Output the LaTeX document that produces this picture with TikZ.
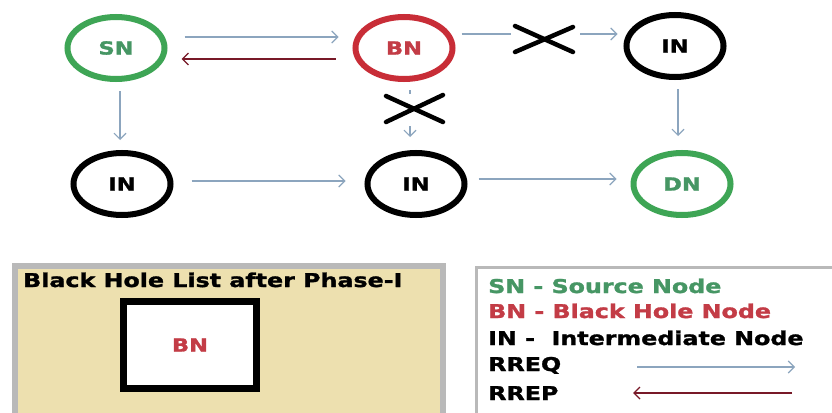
\documentclass[tikz,border=0pt]{standalone}
\usepackage{fontspec}
\newfontfamily\lblfont[FakeStretch=1.25,BoldFeatures={FakeBold=1.5}]{DejaVu Sans}
\usepackage{tikz}
\usetikzlibrary{calc,positioning,shapes.geometric,arrows.meta}
\usepackage{xcolor}
\definecolor{srcgreen}{RGB}{62,165,85}
\definecolor{srctext}{RGB}{70,150,100}
\definecolor{bhred}{RGB}{200,45,55}
\definecolor{bhtext}{RGB}{195,60,70}
\definecolor{reqblue}{RGB}{140,165,190}
\definecolor{repred}{RGB}{120,25,40}
\definecolor{paneltan}{RGB}{237,224,175}
\definecolor{panelgray}{RGB}{185,185,185}

\begin{document}
\begin{tikzpicture}[x=1pt,y=-1pt,
    netnode/.style={ellipse, draw, line width=6pt, minimum width=97pt, minimum height=62pt,
        inner sep=0pt, font=\lblfont\bfseries\fontsize{18}{20}\selectfont},
    req/.style={reqblue, line width=1.1pt, -{Straight Barb[length=6pt,width=12pt]}},
    rep/.style={repred, line width=1.4pt, -{Straight Barb[length=6pt,width=12pt]}},
    cross/.style={line width=4.5pt, line cap=round},
    txt/.style={anchor=base west, inner sep=0pt, font=\lblfont\bfseries\fontsize{19}{21}\selectfont}]
        \clip (0,0) rectangle (832,412);
        \fill[white] (0,0) rectangle (832,412);

        % --- Top: network ---
        \node[netnode, draw=srcgreen, text=srctext] (SN) at (116,48) {SN};
        \node[netnode, draw=bhred, text=bhtext] (BN) at (404,48) {BN};
        \node[netnode, draw=black] (INr) at (675,46) {IN};
        \node[netnode, draw=black] (INl) at (122,184) {IN};
        \node[netnode, draw=black] (INm) at (416,184) {IN};
        \node[netnode, draw=srcgreen, text=srctext] (DN) at (682,184) {DN};

        \coordinate (cutA) at (511,34);
        \coordinate (cutB) at (580,34);
        \coordinate (cutC) at (410,94);
        \coordinate (cutD) at (410,126);

        \draw[req, shorten <=17pt, shorten >=14pt] ([yshift=11pt]SN.east) -- ([yshift=11pt]BN.west);
        \draw[rep, shorten <=17pt, shorten >=14pt] ([yshift=-11pt]BN.west) -- ([yshift=-11pt]SN.east);
        \draw[reqblue, line width=1.1pt, shorten <=6pt] ([yshift=14pt]BN.east) -- (cutA);
        \draw[req, shorten >=6pt] (cutB) -- ([yshift=12pt]INr.west);
        \draw[reqblue, line width=1.1pt, shorten <=8pt] ([xshift=6pt]BN.south) -- (cutC);
        \draw[req, shorten >=13pt] (cutD) -- ([xshift=-6pt]INm.north);
        \draw[req, shorten <=9pt, shorten >=10pt] ([xshift=4pt]SN.south) -- ([xshift=-2pt]INl.north);
        \draw[req, shorten <=9pt, shorten >=14pt] ([xshift=3pt]INr.south) -- ([xshift=-4pt]DN.north);
        \draw[req, shorten <=18pt, shorten >=19pt] ([yshift=3pt]INl.east) -- ([yshift=3pt]INm.west);
        \draw[req, shorten <=11pt, shorten >=14pt] ([yshift=5pt]INm.east) -- ([yshift=5pt]DN.west);

        % crosses on the blocked links
        \draw[cross] (515,26) -- (573,52);
        \draw[cross] (515,52) -- (573,27);
        \draw[cross] (386,96) -- (443,122);
        \draw[cross] (386,122) -- (443,95);

        % --- Bottom left: black hole list ---
        \draw[panelgray, line width=6pt, fill=paneltan] (15,266) rectangle (443,430);
        \node[txt] (title) at (23,287) {Black Hole List after Phase-I};
        \node[draw=black, line width=7pt, fill=white, minimum width=133pt, minimum height=87pt,
            text=bhtext, font=\lblfont\bfseries\fontsize{18}{20}\selectfont] (bhlist) at (190,345) {BN};

        % --- Bottom right: legend ---
        \draw[panelgray, line width=3pt, fill=white] (476,267) rectangle (860,430);
        \node[txt, text=srctext] (lgSN) at (488,293) {SN - Source Node};
        \node[txt, text=bhtext] (lgBN) at (488,318) {BN - Black Hole Node};
        \node[txt] (lgIN) at (488,345) {IN -\ \ Intermediate Node};
        \node[txt] (lgREQ) at (488,371) {RREQ};
        \node[txt] (lgREP) at (488,400) {RREP};
        \coordinate (reqA) at (637,367);
        \coordinate (reqB) at (795,367);
        \coordinate (repA) at (792,393);
        \coordinate (repB) at (633,393);
        \draw[req] (reqA) -- (reqB);
        \draw[rep] (repA) -- (repB);
\end{tikzpicture}
\end{document}
